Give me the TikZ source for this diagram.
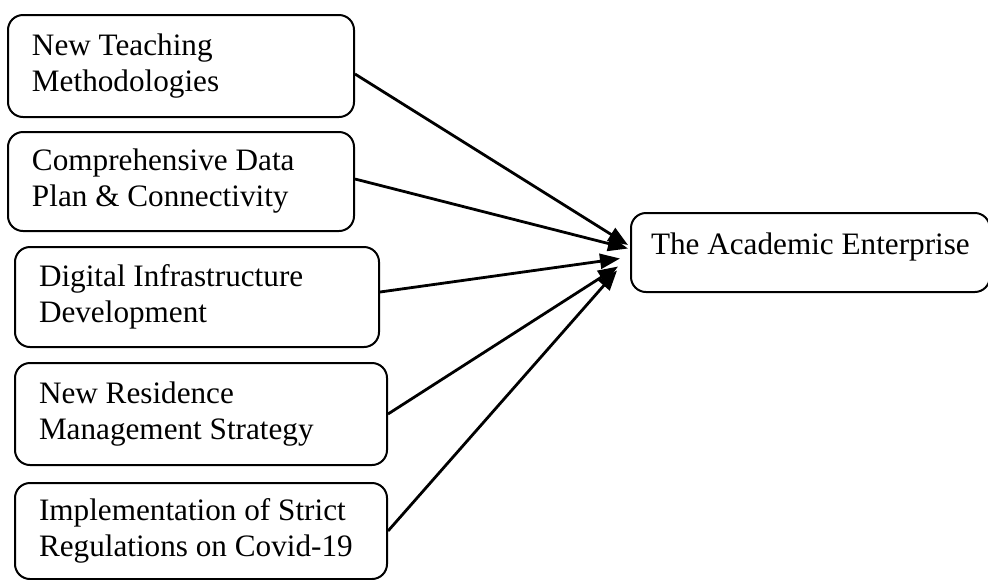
\documentclass[tikz,border=0pt]{standalone}
\usepackage{fontspec}
\setmainfont{Liberation Serif}
\usetikzlibrary{arrows.meta}

\begin{document}
\begin{tikzpicture}[x=0.5pt,y=-0.5pt,
    box/.style={draw, line width=1pt, rounded corners=7.5pt, align=flush left,
        inner xsep=12pt, anchor=north west,
        font=\fontsize{15.6}{18}\selectfont},
    link/.style={line width=1.4pt, -{Triangle[length=10pt,width=7.5pt]}}]

    \useasboundingbox (0,0) rectangle (988,579);

    % factors on the left
    \node[box, text width=149pt, minimum height=51pt] (teach) at (7,14)
        {New Teaching\\Methodologies};
    \node[box, text width=149pt, minimum height=49.5pt] (data) at (7,131)
        {Comprehensive Data\\Plan \& Connectivity};
    \node[box, text width=158pt, minimum height=50pt] (infra) at (14,246)
        {Digital Infrastructure\\Development};
    \node[box, text width=162pt, minimum height=51pt] (resid) at (14,362)
        {New Residence\\Management Strategy};
    \node[box, text width=162pt, minimum height=48pt] (covid) at (14,482)
        {Implementation of Strict\\Regulations on Covid-19};

    % outcome
    \node[box, align=left, inner xsep=10pt, minimum width=177.5pt, minimum height=39.5pt,
        text depth=9pt] (acad) at (630,212) {The Academic Enterprise};

    \draw[link] ([yshift=-4pt]teach.east) -- ([shift={(-1pt,3.75pt)}]acad.west);
    \draw[link] ([yshift=1.25pt]data.east) -- ([shift={(-1pt,2pt)}]acad.west);
    \draw[link] ([yshift=2.5pt]infra.east) -- ([shift={(-5pt,-3pt)}]acad.west);
    \draw[link] (resid.east) -- ([shift={(-6pt,-7pt)}]acad.west);
    \draw[link] (covid.east) -- ([shift={(-6.5pt,-9pt)}]acad.west);
\end{tikzpicture}
\end{document}
